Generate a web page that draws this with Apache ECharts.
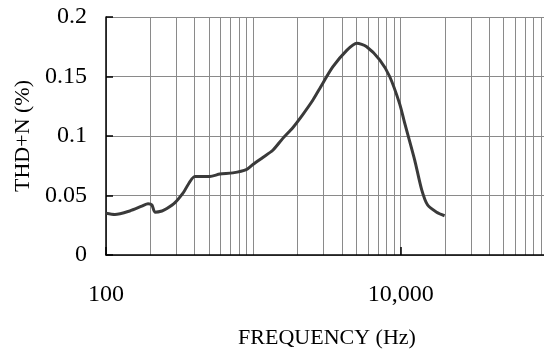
<!DOCTYPE html>
<html>
<head>
<meta charset="utf-8">
<script src="https://cdn.jsdelivr.net/npm/echarts@6/dist/echarts.min.js"></script>
<style>html,body{margin:0;padding:0;background:#fff;}#c{width:544px;height:349px;}</style>
</head>
<body>
<div id="c"></div>
<script>
// Frequency (Hz)
var freq = [100, 115, 145, 175, 193, 205, 215, 240, 259, 294, 333, 401, 434, 507, 593, 726, 903, 993, 1160, 1356, 1585, 1853, 2166, 2532, 2825, 3459, 4305, 5030, 5879, 7206, 8420, 9846, 10640, 12440, 13880, 15240, 17540, 19870];
// THD+N (%)
var thdn = [0.035, 0.034, 0.037, 0.041, 0.043, 0.042, 0.036, 0.037, 0.039, 0.044, 0.052, 0.066, 0.066, 0.066, 0.068, 0.069, 0.072, 0.076, 0.082, 0.088, 0.098, 0.107, 0.118, 0.130, 0.140, 0.158, 0.172, 0.178, 0.175, 0.164, 0.150, 0.127, 0.111, 0.080, 0.055, 0.042, 0.036, 0.033];
var gridFreqs = [100,200,300,400,500,600,700,800,900,1000,2000,3000,4000,5000,6000,7000,8000,9000,10000,20000,30000,40000,50000,60000,70000,80000,90000,100000];
var tickFreqs = [100, 10000];

var FONT = 'Liberation Serif';
var chart = echarts.init(document.getElementById('c'), null, {renderer: 'canvas'});
var pts = freq.map(function (f, i) { return [f, thdn[i]]; });
chart.setOption({
  animation: false,
  backgroundColor: '#fff',
  grid: {left: 106, top: 17, right: -4, bottom: 94, containLabel: false, outerBoundsMode: 'none'},
  xAxis: [{
    type: 'log', logBase: 10, min: 100, max: 100000,
    axisLine: {show: false},
    axisTick: {show: false, customValues: gridFreqs},
    axisLabel: {show: false},
    splitLine: {show: true, lineStyle: {color: '#8a8a8a', width: 1}}
  }, {
    type: 'log', logBase: 10, min: 100, max: 100000, position: 'bottom',
    axisLine: {show: true, onZero: false, lineStyle: {color: '#000', width: 1.5}},
    axisTick: {show: true, inside: true, length: 8, customValues: tickFreqs, lineStyle: {color: '#000', width: 1.5}},
    axisLabel: {show: true, customValues: tickFreqs, margin: 28, color: '#000', fontFamily: FONT, fontSize: 24,
      formatter: function (v) { return Number(v).toLocaleString('en-US'); }},
    splitLine: {show: false},
    name: 'FREQUENCY (Hz)', nameLocation: 'middle', nameGap: 72,
    nameTextStyle: {color: '#000', fontFamily: FONT, fontSize: 22}
  }],
  yAxis: {
    type: 'value', min: 0, max: 0.2, interval: 0.05,
    axisLine: {show: true, onZero: false, lineStyle: {color: '#000', width: 1.5}},
    axisTick: {show: true, inside: true, length: 7, lineStyle: {color: '#000', width: 1.5}},
    axisLabel: {margin: 19, color: '#000', fontFamily: FONT, fontSize: 24,
      formatter: function (v) { return String(+v.toFixed(2)); }},
    splitLine: {show: true, lineStyle: {color: '#8a8a8a', width: 1}},
    name: 'THD+N (%)', nameLocation: 'middle', nameGap: 72,
    nameTextStyle: {color: '#000', fontFamily: FONT, fontSize: 22}
  },
  series: [{
    type: 'line', xAxisIndex: 0, data: pts, symbol: 'none', smooth: 0.25,
    lineStyle: {color: '#3a3a3a', width: 3}
  }]
});
</script>
</body>
</html>
